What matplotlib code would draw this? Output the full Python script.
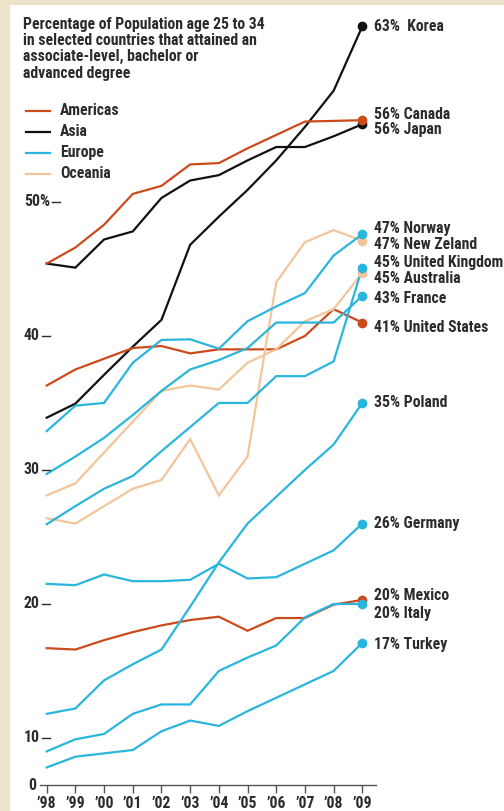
import matplotlib
matplotlib.use("Agg")
import matplotlib.pyplot as plt
from matplotlib import font_manager
from matplotlib.patches import Rectangle
from matplotlib.transforms import blended_transform_factory

# years on the x axis
years = ["\u201998", "\u201999", "\u201900", "\u201901", "\u201902", "\u201903",
         "\u201904", "\u201905", "\u201906", "\u201907", "\u201908", "\u201909"]

# Americas
canada = [45.4, 46.6, 48.3, 50.6, 51.2, 52.8, 52.9, 54.0, 55.0, 56.0, 56.05, 56.1]
united_states = [36.3, 37.5, 38.3, 39.1, 39.25, 38.7, 39.0, 39.0, 39.0, 40.0, 42.0, 41.0]
mexico = [16.7, 16.6, 17.3, 17.9, 18.4, 18.8, 19.05, 18.0, 18.95, 18.95, 19.95, 20.3]

# Asia
korea = [33.9, 34.95, 37.1, 39.2, 41.2, 46.8, 48.9, 50.9, 53.1, 55.6, 58.3, 63.1]
japan = [45.4, 45.1, 47.2, 47.8, 50.3, 51.6, 52.0, 53.1, 54.1, 54.1, 54.9, 55.8]

# Europe
norway = [32.9, 34.8, 35.0, 38.0, 39.7, 39.75, 39.05, 41.1, 42.2, 43.2, 46.0, 47.6]
united_kingdom = [25.95, 27.3, 28.6, 29.55, 31.4, 33.2, 35.0, 35.0, 37.0, 37.0, 38.1, 45.1]
france = [29.7, 31.0, 32.4, 34.1, 35.9, 37.5, 38.2, 39.1, 41.0, 41.0, 41.0, 43.0]
poland = [11.8, 12.2, 14.3, 15.5, 16.6, 19.8, 23.1, 26.0, 28.0, 30.0, 31.9, 35.0]
germany = [21.5, 21.4, 22.2, 21.7, 21.7, 21.8, 23.0, 21.9, 22.0, 23.0, 24.0, 26.0]
italy = [9.0, 9.9, 10.3, 11.8, 12.5, 12.5, 15.0, 16.0, 16.9, 19.0, 20.0, 20.0]
turkey = [7.8, 8.6, 8.85, 9.1, 10.5, 11.3, 10.9, 12.0, 13.0, 14.0, 15.0, 17.1]

# Oceania
new_zealand = [26.4, 26.0, 27.3, 28.6, 29.25, 32.3, 28.1, 31.0, 44.0, 47.0, 47.9, 47.1]
australia = [28.1, 29.0, 31.3, 33.6, 35.9, 36.3, 36.0, 38.0, 39.0, 41.1, 42.0, 44.7]

regions = ["Americas", "Asia", "Europe", "Oceania"]
end_labels = ["63%  Korea", "56% Canada", "56% Japan", "47% Norway", "47% New Zeland",
              "45% United Kingdom", "45% Australia", "43% France", "41% United States",
              "35% Poland", "26% Germany", "20% Mexico", "20% Italy", "17% Turkey"]
y_tick_values = [10, 20, 30, 40, 50]
y_tick_labels = ["10", "20", "30", "40", "50%"]

colors = {"Americas": "#cc4b1c", "Asia": "#111111", "Europe": "#2ab6dc", "Oceania": "#f3c59b"}

series = [
    (korea, "Asia"), (japan, "Asia"),
    (canada, "Americas"), (united_states, "Americas"), (mexico, "Americas"),
    (new_zealand, "Oceania"), (australia, "Oceania"),
    (norway, "Europe"), (united_kingdom, "Europe"), (france, "Europe"),
    (poland, "Europe"), (germany, "Europe"), (italy, "Europe"), (turkey, "Europe"),
]
# where each end label sits (data units), same order as end_labels
label_y = [63.1, 56.5, 55.4, 48.0, 46.8, 45.5, 44.3, 42.8, 40.6, 35.0, 26.0,
           20.6, 19.3, 17.0]

# pick a condensed bold face if one is around
names = {f.name for f in font_manager.fontManager.ttflist}
font = "Liberation Sans"
for cand in ["Roboto Condensed", "Liberation Sans Narrow", "DejaVu Sans Condensed"]:
    if cand in names:
        font = cand
        break
plt.rcParams["font.family"] = [font, "DejaVu Sans"]
plt.rcParams["font.weight"] = "bold"

FS = 11.3
W, H = 504, 811
fig = plt.figure(figsize=(W / 100, H / 100), dpi=100, facecolor="#ede3cb")
fig.patches.append(Rectangle((10 / W, 0), 1, (H - 5) / H, transform=fig.transFigure,
                             facecolor="white", edgecolor="none", zorder=-5))

ax_left, ax_right, ax_bottom, ax_top = 40, 376, 785, 11
ax = fig.add_axes([ax_left / W, (H - ax_bottom) / H, (ax_right - ax_left) / W,
                   (ax_bottom - ax_top) / H])
ax.set_facecolor("none")
x = list(range(len(years)))
ax.set_xlim(-0.233, 11.477)
ax.set_ylim(6.49, 64.25)

for vals, region in series:
    ax.plot(x, vals, color=colors[region], lw=1.6, solid_joinstyle="miter", zorder=2)
    ax.plot(x[-1], vals[-1], "o", color=colors[region], ms=6, clip_on=False, zorder=3)

text_col = "#2b2b2b"
for lab, ly in zip(end_labels, label_y):
    ax.text(11.42, ly, lab, fontsize=FS, color=text_col, va="center", ha="left",
            clip_on=False)

for sp in ["top", "right", "left"]:
    ax.spines[sp].set_visible(False)
ax.spines["bottom"].set_color("#555555")
ax.spines["bottom"].set_linewidth(1.0)
ax.set_xticks(x)
ax.set_xticklabels(years, fontsize=FS, color=text_col)
ax.tick_params(axis="x", length=6, width=1.0, color="#555555", pad=2)
ax.set_yticks([])

# y labels drawn as text, each followed by a short dash
renderer = fig.canvas.get_renderer()
trans = blended_transform_factory(fig.transFigure, ax.transData)
for v, lab in zip(y_tick_values, y_tick_labels):
    t = ax.text(24 / W, v, lab, fontsize=FS, color=text_col, va="center", ha="left",
                transform=trans, clip_on=False)
    x1 = t.get_window_extent(renderer).x1
    ax.plot([(x1 + 2) / W, (x1 + 10) / W], [v, v], color=text_col, lw=1.0,
            transform=trans, clip_on=False)
ax.text(28 / W, 6.49, "0", fontsize=FS, color=text_col, va="center", ha="left",
        transform=trans, clip_on=False)

fig.text(23 / W, 1 - 17 / H,
         "Percentage of Population age 25 to 34\nin selected countries that attained an\n"
         "associate-level, bachelor or\nadvanced degree",
         fontsize=FS, color=text_col, va="top", ha="left", linespacing=1.1)

for i, region in enumerate(regions):
    yy = 1 - (110.5 + 21 * i) / H
    fig.add_artist(plt.Line2D([26 / W, 50 / W], [yy, yy], color=colors[region], lw=1.6))
    fig.text(60 / W, yy, region, fontsize=FS, color=text_col, va="center", ha="left")

fig.savefig("out.png", dpi=100, facecolor=fig.get_facecolor())
